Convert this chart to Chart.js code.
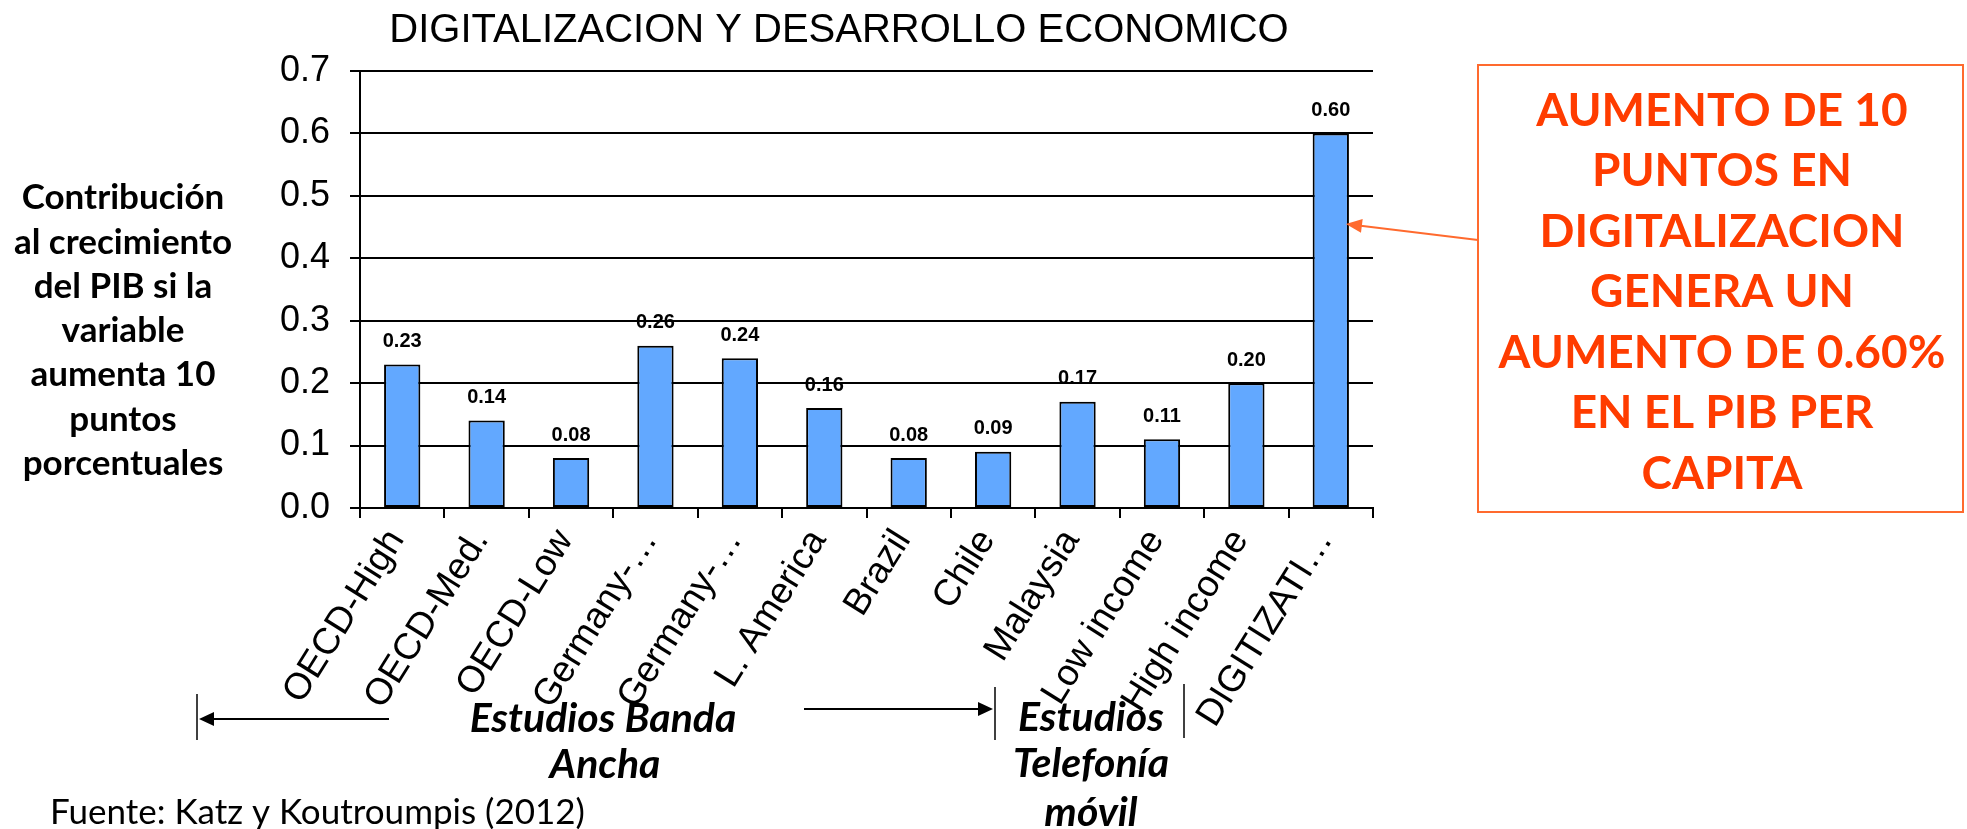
<!DOCTYPE html>
<html lang="es">
<head>
<meta charset="UTF-8">
<title>Digitalizacion y desarrollo economico</title>
<script src="https://cdn.jsdelivr.net/npm/chart.js"></script>
<style>
  html, body { margin: 0; padding: 0; background: #fff; }
  #wrap { width: 1967px; height: 829px; }
</style>
</head>
<body>
<div id="wrap"><canvas id="grafico" width="1967" height="829"></canvas></div>
<script>
// categorias del eje X
const categorias = ['OECD-High', 'OECD-Med.', 'OECD-Low', 'Germany-…', 'Germany-…', 'L. America',
  'Brazil', 'Chile', 'Malaysia', 'Low income', 'High income', 'DIGITIZATI…'];
// contribucion al crecimiento del PIB (puntos)
const valores = [0.23, 0.14, 0.08, 0.26, 0.24, 0.16, 0.08, 0.09, 0.17, 0.11, 0.20, 0.60];
// marcas del eje Y
const ticksY = [0, 0.1, 0.2, 0.3, 0.4, 0.5, 0.6, 0.7];

const titulo = 'DIGITALIZACION Y DESARROLLO ECONOMICO';
const tituloEjeY = ['Contribución', 'al crecimiento', 'del PIB si la', 'variable', 'aumenta 10', 'puntos', 'porcentuales'];
const textoRecuadro = ['AUMENTO DE 10', 'PUNTOS EN', 'DIGITALIZACION', 'GENERA UN', 'AUMENTO DE 0.60%', 'EN EL PIB PER', 'CAPITA'];
const fuente = 'Fuente: Katz y Koutroumpis (2012)';

const NARROW = '"Liberation Sans Narrow", "Liberation Sans", Arial, sans-serif';
const ARIAL = '"Liberation Sans", Arial, sans-serif';
const CALIBRI = 'Lato, "Open Sans", sans-serif';
const NARANJA = '#ff3c00';
const NARANJA_CLARO = '#ff6a2e';

function flecha(ctx, x1, y1, x2, y2, color, largo, medio) {
  // linea de (x1,y1) a (x2,y2) con punta rellena en (x2,y2)
  const ang = Math.atan2(y2 - y1, x2 - x1);
  ctx.save();
  ctx.strokeStyle = color;
  ctx.fillStyle = color;
  ctx.lineWidth = 2;
  ctx.beginPath();
  ctx.moveTo(x1, y1);
  ctx.lineTo(x2 - Math.cos(ang) * largo * 0.8, y2 - Math.sin(ang) * largo * 0.8);
  ctx.stroke();
  ctx.beginPath();
  ctx.moveTo(x2, y2);
  ctx.lineTo(x2 - Math.cos(ang) * largo - Math.sin(ang) * medio, y2 - Math.sin(ang) * largo + Math.cos(ang) * medio);
  ctx.lineTo(x2 - Math.cos(ang) * largo + Math.sin(ang) * medio, y2 - Math.sin(ang) * largo - Math.cos(ang) * medio);
  ctx.closePath();
  ctx.fill();
  ctx.restore();
}

function linea(ctx, x1, y1, x2, y2) {
  ctx.beginPath();
  ctx.moveTo(x1, y1);
  ctx.lineTo(x2, y2);
  ctx.stroke();
}

const anotaciones = {
  id: 'anotaciones',
  afterDatasetsDraw(chart) {
    const ctx = chart.ctx;
    const meta = chart.getDatasetMeta(0);
    // valor encima de cada barra
    ctx.save();
    ctx.font = 'bold 20px ' + NARROW;
    ctx.fillStyle = '#000';
    ctx.textAlign = 'center';
    ctx.textBaseline = 'middle';
    meta.data.forEach((barra, i) => {
      ctx.fillText(valores[i].toFixed(2), barra.x, barra.y - 23);
    });
    ctx.restore();
  },
  afterDraw(chart) {
    const ctx = chart.ctx;
    const y = chart.scales.y;
    const ultima = chart.getDatasetMeta(0).data[valores.length - 1];

    ctx.save();
    ctx.fillStyle = '#000';
    ctx.textAlign = 'center';
    ctx.textBaseline = 'middle';

    // titulo
    ctx.font = '40px ' + ARIAL;
    ctx.fillText(titulo, 839, 31);

    // titulo del eje Y, a la izquierda
    ctx.font = 'bold 35px ' + CALIBRI;
    tituloEjeY.forEach((t, i) => ctx.fillText(t, 123, 198 + i * 44.3));

    // recuadro de la derecha
    ctx.strokeStyle = NARANJA_CLARO;
    ctx.lineWidth = 2;
    ctx.strokeRect(1478, 65, 485, 447);
    ctx.fillStyle = NARANJA;
    ctx.font = 'bold 46px ' + CALIBRI;
    textoRecuadro.forEach((t, i) => ctx.fillText(t, 1722, 111 + i * 60.5));

    // flecha del recuadro a la barra de digitalizacion
    flecha(ctx, 1478, 240, ultima.x + ultima.width / 2 - 3, y.getPixelForValue(0.455), NARANJA_CLARO, 16, 7);

    // grupos de estudios bajo el eje
    ctx.strokeStyle = '#000';
    ctx.lineWidth = 1.5;
    linea(ctx, 197, 694, 197, 740);
    linea(ctx, 995, 687, 995, 740);
    linea(ctx, 1184, 684, 1184, 738);
    flecha(ctx, 389, 719, 199, 719, '#000', 15, 7);
    flecha(ctx, 804, 709, 993, 709, '#000', 15, 7);

    ctx.fillStyle = '#000';
    ctx.font = 'italic bold 41px ' + CALIBRI;
    ctx.fillText('Estudios Banda', 603, 719);
    ctx.fillText('Ancha', 605, 765);
    ctx.fillText('Estudios', 1091, 718);
    ctx.fillText('Telefonía', 1091, 764);
    ctx.fillText('móvil', 1091, 813);

    // fuente
    ctx.textAlign = 'left';
    ctx.font = '35px ' + CALIBRI;
    ctx.fillText(fuente, 50, 813);
    ctx.restore();
  }
};

new Chart(document.getElementById('grafico'), {
  type: 'bar',
  data: {
    labels: categorias,
    datasets: [{
      data: valores,
      backgroundColor: '#62a8ff',
      borderColor: '#000',
      borderWidth: 2,
      borderSkipped: false,
      barPercentage: 0.43,
      categoryPercentage: 1
    }]
  },
  options: {
    responsive: false,
    animation: false,
    layout: { padding: { left: 0, top: 71, right: 594, bottom: 0 } },
    plugins: {
      legend: { display: false },
      tooltip: { enabled: false }
    },
    scales: {
      x: {
        afterFit: s => { s.height = 321; },
        grid: { display: true, drawOnChartArea: false, drawTicks: true, tickLength: 10, color: '#000', lineWidth: 2, offset: true },
        border: { display: true, color: '#000', width: 2 },
        ticks: {
          autoSkip: false,
          minRotation: 58,
          maxRotation: 58,
          padding: 4,
          labelOffset: -6,
          color: '#000',
          font: { family: ARIAL, size: 37 }
        }
      },
      y: {
        min: 0,
        max: 0.7,
        afterFit: s => { s.width = 360; },
        afterBuildTicks: s => { s.ticks = ticksY.map(v => ({ value: v })); },
        grid: { color: '#000', lineWidth: 2, tickLength: 10 },
        border: { display: true, color: '#000', width: 2 },
        ticks: {
          padding: 20,
          color: '#000',
          font: { family: NARROW, size: 36 },
          callback: v => v.toFixed(1)
        }
      }
    }
  },
  plugins: [anotaciones]
});
</script>
</body>
</html>
